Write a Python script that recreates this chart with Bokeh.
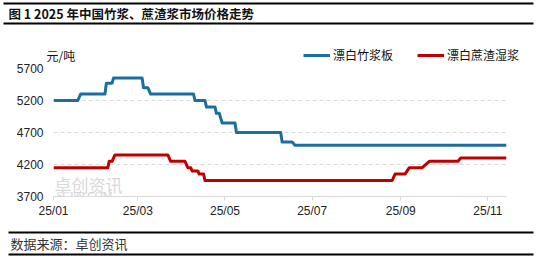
import pandas as pd
from bokeh.plotting import figure
from bokeh.layouts import column
from bokeh.models import (Range1d, FixedTicker, DatetimeTickFormatter, Label,
                          Legend, LegendItem, BoxAnnotation)
from bokeh.embed import file_html
from bokeh.resources import INLINE

# ---------------- data ----------------
title_text = "图 1 2025 年中国竹浆、蔗渣浆市场价格走势"
unit_text = "元/吨"
source_text = "数据来源：卓创资讯"
series_names = ["漂白竹浆板", "漂白蔗渣湿浆"]

bamboo_dates = ["2025-01-01", "2025-01-18", "2025-01-20", "2025-02-06", "2025-02-07",
                "2025-02-11", "2025-02-12", "2025-03-04", "2025-03-05", "2025-03-08",
                "2025-03-10", "2025-04-09", "2025-04-10", "2025-04-17", "2025-04-18",
                "2025-04-24", "2025-04-25", "2025-04-27", "2025-04-29", "2025-05-08",
                "2025-05-09", "2025-06-09", "2025-06-10", "2025-06-17", "2025-06-19",
                "2025-11-14"]
bamboo_values = [5200, 5200, 5300, 5300, 5470,
                 5470, 5550, 5550, 5400, 5400,
                 5300, 5300, 5200, 5200, 5100,
                 5100, 5000, 5000, 4850, 4850,
                 4700, 4700, 4550, 4550, 4500,
                 4500]

bagasse_dates = ["2025-01-01", "2025-02-08", "2025-02-09", "2025-02-11", "2025-02-13",
                 "2025-03-22", "2025-03-24", "2025-04-03", "2025-04-05", "2025-04-07",
                 "2025-04-08", "2025-04-12", "2025-04-13", "2025-04-16", "2025-04-17",
                 "2025-08-26", "2025-08-28", "2025-09-04", "2025-09-07", "2025-09-16",
                 "2025-09-21", "2025-10-11", "2025-10-13", "2025-11-14"]
bagasse_values = [4150, 4150, 4250, 4250, 4350,
                  4350, 4250, 4250, 4150, 4150,
                  4100, 4100, 4050, 4050, 3950,
                  3950, 4050, 4050, 4150, 4150,
                  4250, 4250, 4300, 4300]

x_tick_dates = ["2025-01-01", "2025-03-01", "2025-05-01", "2025-07-01", "2025-09-01", "2025-11-01"]
y_ticks = [3700, 4200, 4700, 5200, 5700]

# ---------------- styling ----------------
BLUE = "#1B6E9F"
RED = "#C00000"
CJK = "Noto Sans CJK SC"
W = 540
HEAD_H = 63          # canvas rows 0..63
MAIN_H = 159         # canvas rows 63..222
FOOT_H = 36          # canvas rows 222..258
FL, FR = 53, 506     # frame left/right in canvas px
FT, FB = 68, 196     # frame top/bottom in canvas px


def blank_fig(h, y0):
    f = figure(width=W, height=h, output_backend="svg", toolbar_location=None,
               x_range=Range1d(0, W), y_range=Range1d(y0 + h, y0),
               x_axis_location=None, y_axis_location=None, frame_align=False,
               min_border=0, min_border_left=0, min_border_right=0,
               min_border_top=0, min_border_bottom=0)
    f.grid.visible = False
    f.outline_line_color = None
    f.background_fill_color = "white"
    f.border_fill_color = "white"
    return f


def rule(f, l, r, t, b):
    f.add_layout(BoxAnnotation(left=l, right=r, top=t, bottom=b,
                               fill_color="black", fill_alpha=1, line_color=None))


# ---------------- header: title, rules, unit, legend ----------------
head = blank_fig(HEAD_H, 0)
rule(head, 3, 533, 2, 4)
rule(head, 3, 533, 22, 24)
head.add_layout(Label(x=8, y=13, text=title_text, text_baseline="middle",
                      text_font=CJK, text_font_size="12.5px", text_font_style="bold",
                      text_color="#111111"))
head.add_layout(Label(x=46, y=55, text=unit_text, text_baseline="middle",
                      text_font=CJK, text_font_size="12px", text_color="#111111"))
# legend renderers (same series; they fall outside this header panel's ranges)
h1 = head.line(pd.to_datetime(bamboo_dates), bamboo_values, line_color=BLUE, line_width=3)
h2 = head.line(pd.to_datetime(bagasse_dates), bagasse_values, line_color=RED, line_width=3)
legend = Legend(items=[LegendItem(label=series_names[0], renderers=[h1]),
                       LegendItem(label=series_names[1], renderers=[h2])],
                orientation="horizontal", location=(303, 0),
                glyph_width=27, glyph_height=12, label_height=12,
                label_standoff=3, spacing=24, padding=0, margin=0,
                label_text_font=CJK, label_text_font_size="12px",
                label_text_color="#111111",
                border_line_color=None, background_fill_alpha=0)
head.add_layout(legend, "center")

# ---------------- main chart ----------------
p = figure(width=W, height=MAIN_H, x_axis_type="datetime", output_backend="svg",
           toolbar_location=None, frame_align=False,
           x_range=Range1d(pd.Timestamp(bamboo_dates[0]), pd.Timestamp(bamboo_dates[-1])),
           y_range=Range1d(y_ticks[0], y_ticks[-1]),
           min_border_left=FL, min_border_right=W - FR,
           min_border_top=FT - HEAD_H, min_border_bottom=HEAD_H + MAIN_H - FB)
p.outline_line_color = None
p.background_fill_color = "white"
p.border_fill_color = "white"

# watermark (inside the plot area)
p.add_layout(Label(x=1, y=FB - 184, x_units="screen", y_units="screen", text="卓创资讯",
                   text_baseline="middle", text_font=CJK, text_font_size="17px",
                   text_color="#d9d9d9", level="underlay"))
p.add_layout(Label(x=3, y=FB - 194, x_units="screen", y_units="screen", text="SCI99.COM",
                   text_baseline="middle", text_font="Liberation Serif",
                   text_font_size="11px", text_color="#d3d3d3", level="underlay"))

r1 = p.line(pd.to_datetime(bamboo_dates), bamboo_values, line_color=BLUE, line_width=3,
            line_join="round")
r2 = p.line(pd.to_datetime(bagasse_dates), bagasse_values, line_color=RED, line_width=3,
            line_join="round")

p.xgrid.grid_line_color = None
p.ygrid.grid_line_color = "#d9d9d9"
p.ygrid.grid_line_dash = "4 3"
p.ygrid.grid_line_width = 1

p.xaxis.ticker = FixedTicker(ticks=[pd.Timestamp(d).value / 1e6 for d in x_tick_dates])
fmt = "%y/%m"
p.xaxis.formatter = DatetimeTickFormatter(days=fmt, months=fmt, years=fmt, hours=fmt,
                                          minutes=fmt, seconds=fmt, milliseconds=fmt,
                                          minsec=fmt, hourmin=fmt)
p.xaxis.axis_line_color = "#d9d9d9"
p.xaxis.axis_line_width = 1
p.xaxis.major_tick_line_color = "#d9d9d9"
p.xaxis.major_tick_out = 4
p.xaxis.major_tick_in = 0
p.xaxis.minor_tick_line_color = None
p.xaxis.major_label_standoff = 3

p.yaxis.ticker = FixedTicker(ticks=y_ticks)
p.yaxis.axis_line_color = None
p.yaxis.major_tick_line_color = None
p.yaxis.minor_tick_line_color = None
p.yaxis.major_label_standoff = 4

for ax in (p.xaxis, p.yaxis):
    ax.major_label_text_font = "Liberation Sans"
    ax.major_label_text_font_size = "12px"
    ax.major_label_text_color = "#222222"

# ---------------- footer ----------------
foot = blank_fig(FOOT_H, HEAD_H + MAIN_H)
rule(foot, 8, 533, 231, 233)
rule(foot, 8, 533, 253, 255)
foot.add_layout(Label(x=10, y=243, text=source_text, text_baseline="middle",
                      text_font=CJK, text_font_size="13px", text_color="#333333"))

layout = column(head, p, foot, spacing=0)
open("out.html", "w").write(file_html(layout, INLINE))
